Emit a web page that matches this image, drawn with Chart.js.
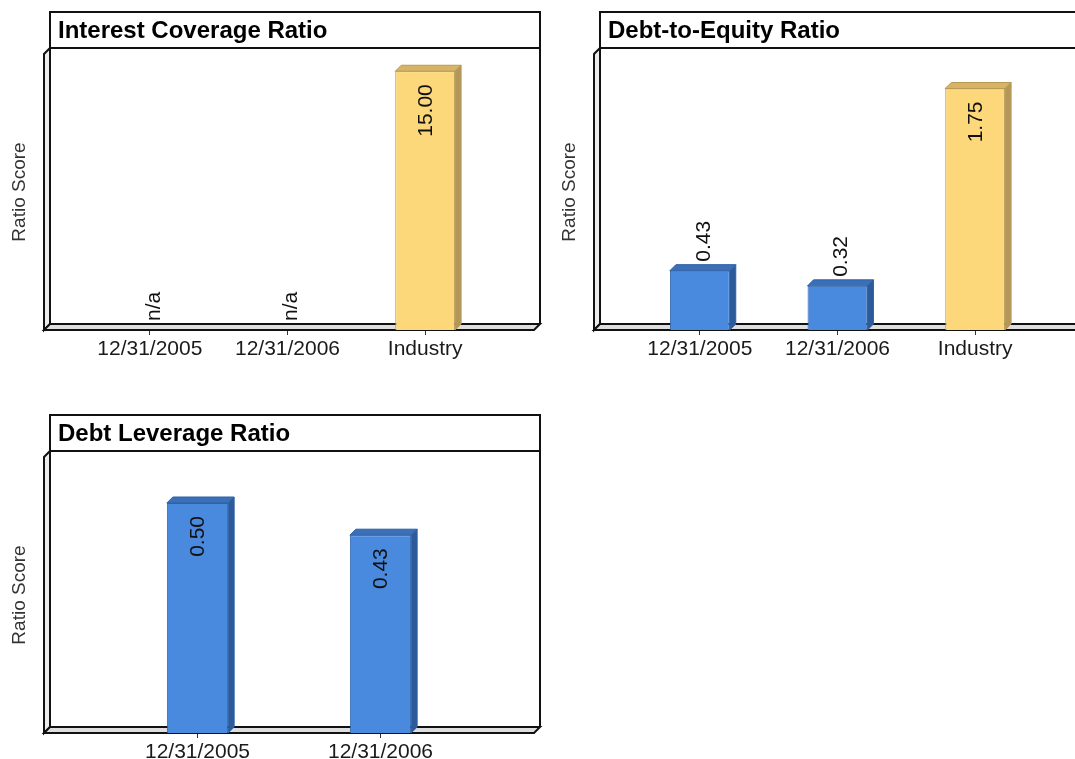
<!DOCTYPE html>
<html>
<head>
<meta charset="utf-8">
<script src="https://cdn.jsdelivr.net/npm/chart.js@4.4.1/dist/chart.umd.min.js"></script>
<style>
  html, body { margin: 0; padding: 0; background: #fff; width: 1075px; height: 759px; overflow: hidden; }
  canvas { position: absolute; }
</style>
</head>
<body>
<canvas id="chart1" width="545" height="370" style="left:0px;top:0px"></canvas>
<canvas id="chart2" width="545" height="370" style="left:550px;top:0px"></canvas>
<canvas id="chart3" width="545" height="370" style="left:0px;top:403px"></canvas>
<script>
// data
const icrLabels = ['12/31/2005', '12/31/2006', 'Industry'];
const icrValues = [null, null, 15.00];
const icrKinds  = ['co', 'co', 'ind'];

const derLabels = ['12/31/2005', '12/31/2006', 'Industry'];
const derValues = [0.43, 0.32, 1.75];
const derKinds  = ['co', 'co', 'ind'];

const dlrLabels = ['12/31/2005', '12/31/2006'];
const dlrValues = [0.50, 0.43];
const dlrKinds  = ['co', 'co'];

// styles
const FONT = '"Liberation Sans", Arial, Helvetica, sans-serif';
const COLORS = {
  co:  { front: '#4a8ade', top: '#3b6fb8', side: '#2c5a9b', edge: '#2f62a6' },
  ind: { front: '#fdd87a', top: '#d6b464', side: '#b3965a', edge: '#b99a55' }
};
const DEPTH = 6;
const FRAME_L = 50, FRAME_R = 540, TITLE_TOP = 12, TITLE_H = 36;

function poly(ctx, pts, fill) {
  ctx.beginPath();
  ctx.moveTo(pts[0][0], pts[0][1]);
  for (let i = 1; i < pts.length; i++) ctx.lineTo(pts[i][0], pts[i][1]);
  ctx.closePath();
  if (fill) { ctx.fillStyle = fill; ctx.fill(); }
  ctx.stroke();
}

// box, walls, floor, 3d bar faces and value labels
const frame3d = {
  id: 'frame3d',
  beforeDatasetsDraw(chart, args, opts) {
    const ctx = chart.ctx, a = chart.chartArea, d = DEPTH;
    const wallTop = TITLE_TOP + TITLE_H, floorY = a.bottom;
    ctx.save();
    ctx.lineWidth = 2;
    ctx.strokeStyle = '#111';
    ctx.strokeRect(FRAME_L, TITLE_TOP, FRAME_R - FRAME_L, TITLE_H);
    ctx.fillStyle = '#000';
    ctx.font = 'bold 24px ' + FONT;
    ctx.textBaseline = 'middle';
    ctx.textAlign = 'left';
    ctx.fillText(opts.text, FRAME_L + 8, TITLE_TOP + TITLE_H / 2 + 1);
    // back wall right edge
    ctx.beginPath();
    ctx.moveTo(FRAME_R, wallTop);
    ctx.lineTo(FRAME_R, floorY - d);
    ctx.stroke();
    // left wall
    poly(ctx, [[FRAME_L - d, wallTop + d], [FRAME_L, wallTop], [FRAME_L, floorY - d], [FRAME_L - d, floorY]], '#ececec');
    // floor
    poly(ctx, [[FRAME_L - d, floorY], [FRAME_L, floorY - d], [FRAME_R, floorY - d], [FRAME_R - d, floorY]], '#dedede');
    ctx.restore();
  },
  afterDatasetsDraw(chart, args, opts) {
    const ctx = chart.ctx, d = DEPTH, a = chart.chartArea;
    const ds = chart.data.datasets[0];
    const meta = chart.getDatasetMeta(0);
    ctx.save();
    ctx.lineWidth = 1;
    meta.data.forEach((bar, i) => {
      const v = ds.data[i];
      const c = COLORS[opts.kinds[i]];
      const x0 = bar.x - bar.width / 2, x1 = bar.x + bar.width / 2;
      ctx.font = '21px ' + FONT;
      ctx.fillStyle = '#111';
      if (v === null || v === undefined) {
        ctx.save();
        ctx.translate(bar.x + 4, a.bottom - d - 3);
        ctx.rotate(-Math.PI / 2);
        ctx.textAlign = 'left';
        ctx.textBaseline = 'middle';
        ctx.fillText('n/a', 0, 0);
        ctx.restore();
        return;
      }
      const yTop = bar.y, yBot = bar.base;
      ctx.strokeStyle = c.edge;
      poly(ctx, [[x0, yTop], [x0 + d, yTop - d], [x1 + d, yTop - d], [x1, yTop]], c.top);
      poly(ctx, [[x1, yTop], [x1 + d, yTop - d], [x1 + d, yBot - d], [x1, yBot]], c.side);
      // value label, rotated
      const txt = v.toFixed(2);
      ctx.fillStyle = '#111';
      ctx.save();
      ctx.textBaseline = 'middle';
      if (yBot - yTop > 100) {
        ctx.translate(bar.x + 1, yTop + 13);
        ctx.rotate(-Math.PI / 2);
        ctx.textAlign = 'right';
      } else {
        ctx.translate(bar.x + 4, yTop - d - 3);
        ctx.rotate(-Math.PI / 2);
        ctx.textAlign = 'left';
      }
      ctx.fillText(txt, 0, 0);
      ctx.restore();
    });
    ctx.restore();
  }
};

function makeChart(id, title, labels, values, kinds, yMax, areaLeft, areaRight, barPct) {
  const canvas = document.getElementById(id);
  const config = {
    type: 'bar',
    data: {
      labels: labels,
      datasets: [{
        data: values,
        backgroundColor: kinds.map(k => COLORS[k].front),
        borderColor: kinds.map(k => COLORS[k].edge),
        borderWidth: 1,
        categoryPercentage: 1,
        barPercentage: barPct
      }]
    },
    options: {
      responsive: false,
      animation: false,
      devicePixelRatio: 1,
      layout: { padding: { top: 54, left: 0, bottom: 0, right: canvas.width - areaRight } },
      plugins: {
        legend: { display: false },
        tooltip: { enabled: false },
        frame3d: { text: title, kinds: kinds }
      },
      scales: {
        x: {
          afterFit: s => { s.height = 40; },
          border: { display: false },
          grid: { display: true, offset: false, drawOnChartArea: false, drawTicks: true, tickLength: 5, color: '#333' },
          ticks: { color: '#1a1a1a', padding: 2, maxRotation: 0, font: { family: FONT, size: 21 } }
        },
        y: {
          min: 0,
          max: yMax,
          afterFit: s => { s.width = areaLeft; },
          border: { display: false },
          grid: { display: false },
          ticks: { display: false },
          title: { display: true, text: 'Ratio Score', color: '#333', padding: { top: 8, bottom: 0 }, font: { family: FONT, size: 19 } }
        }
      }
    },
    plugins: [frame3d]
  };
  return new Chart(canvas.getContext('2d'), config);
}

makeChart('chart1', 'Interest Coverage Ratio', icrLabels, icrValues, icrKinds, 16, 81, 494, 0.435);
makeChart('chart2', 'Debt-to-Equity Ratio', derLabels, derValues, derKinds, 2, 81, 494, 0.435);
makeChart('chart3', 'Debt Leverage Ratio', dlrLabels, dlrValues, dlrKinds, 0.6, 106, 472, 0.335);
</script>
</body>
</html>
